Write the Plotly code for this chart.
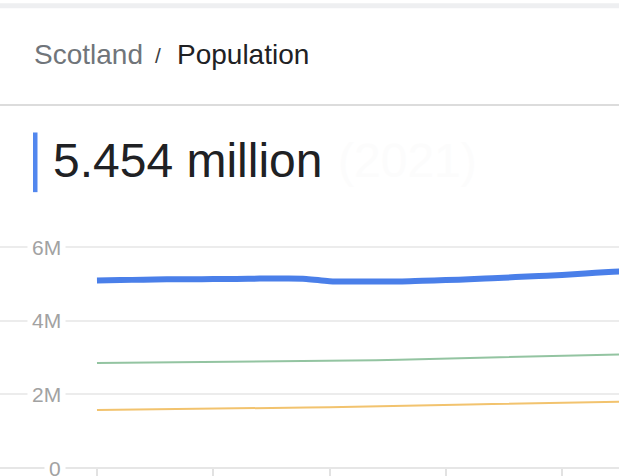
import plotly.graph_objects as go

# ---- data ----
years = list(range(1990, 2014))
scotland = [5.10, 5.11, 5.12, 5.13, 5.13, 5.14, 5.14, 5.15, 5.15, 5.14,
            5.08, 5.07, 5.07, 5.07, 5.09, 5.11, 5.13, 5.16, 5.19, 5.22,
            5.25, 5.29, 5.33, 5.36]
wales = [2.855, 2.860, 2.865, 2.870, 2.875, 2.880, 2.885, 2.890, 2.895, 2.900,
         2.905, 2.915, 2.930, 2.945, 2.960, 2.975, 2.995, 3.010, 3.025, 3.040,
         3.055, 3.070, 3.085, 3.095]
n_ireland = [1.575, 1.585, 1.595, 1.600, 1.605, 1.615, 1.625, 1.630, 1.635, 1.645,
             1.650, 1.660, 1.675, 1.685, 1.695, 1.710, 1.725, 1.740, 1.755, 1.765,
             1.780, 1.790, 1.800, 1.810]
y_tickvals = [0, 2e6, 4e6, 6e6]
y_ticktext = ["0", "2M", "4M", "6M"]
headline_place = "Scotland"
headline_metric = "Population"
headline_value = "5.454 million"
headline_year = "(2021)"

W, H = 619, 476
Y_MAX = 6.1e6
PX_PER_UNIT = 37.6 / 1e6          # pixels per person on the value axis
PLOT_BOTTOM = 473
PLOT_TOP = round(PLOT_BOTTOM - Y_MAX * PX_PER_UNIT)
Y_MAX = (PLOT_BOTTOM - PLOT_TOP) / PX_PER_UNIT


def py(p):
    """pixel row -> paper y"""
    return (PLOT_BOTTOM - p) / (PLOT_BOTTOM - PLOT_TOP)


def px(p):
    return p / W


FONT = "Liberation Sans, Arial, Helvetica, sans-serif"

fig = go.Figure()
fig.add_trace(go.Scatter(x=years, y=[v * 1e6 for v in n_ireland], mode="lines",
                         line=dict(color="#f2c36e", width=2), hoverinfo="skip"))
fig.add_trace(go.Scatter(x=years, y=[v * 1e6 for v in wales], mode="lines",
                         line=dict(color="#93c4a1", width=2), hoverinfo="skip"))
fig.add_trace(go.Scatter(x=years, y=[v * 1e6 for v in scotland], mode="lines",
                         line=dict(color="#4a7fe9", width=6, shape="spline"),
                         hoverinfo="skip"))

shapes = [
    # top grey band
    dict(type="rect", xref="paper", yref="paper", x0=0, x1=1, y0=py(-2), y1=py(3),
         fillcolor="#eeeff1", line=dict(width=0), layer="above"),
    # header divider
    dict(type="line", xref="paper", yref="paper", x0=0, x1=1, y0=py(102), y1=py(102),
         line=dict(color="#dcdcdc", width=2)),
    # blue accent bar
    dict(type="rect", xref="paper", yref="paper", x0=px(33), x1=px(37.5),
         y0=py(191), y1=py(130), fillcolor="#5287ee", line=dict(width=0)),
]

annotations = [
    dict(text=headline_place, x=px(32), y=py(50), xref="paper", yref="paper",
         xanchor="left", yanchor="middle", showarrow=False,
         font=dict(family=FONT, size=28, color="#70757a")),
    dict(text="/", x=px(153), y=py(51), xref="paper", yref="paper",
         xanchor="left", yanchor="middle", showarrow=False,
         font=dict(family=FONT, size=21, color="#3c4043")),
    dict(text=headline_metric, x=px(175), y=py(50), xref="paper", yref="paper",
         xanchor="left", yanchor="middle", showarrow=False,
         font=dict(family=FONT, size=28, color="#202124")),
    dict(text=headline_value, x=px(51), y=py(159), xref="paper", yref="paper",
         xanchor="left", yanchor="middle", showarrow=False,
         font=dict(family=FONT, size=48, color="#202124")),
    dict(text=headline_year, x=px(336), y=py(159), xref="paper", yref="paper",
         xanchor="left", yanchor="middle", showarrow=False,
         font=dict(family=FONT, size=48, color="#fcfcfc")),
]
for v, t in zip(y_tickvals, y_ticktext):
    annotations.append(dict(text=t, x=px(66), y=v, xref="paper", yref="y",
                            xanchor="right", yanchor="middle", showarrow=False,
                            bgcolor="white", borderpad=4,
                            font=dict(family=FONT, size=21, color="#a2a2a2")))

fig.update_layout(
    width=W, height=H,
    margin=dict(l=0, r=0, t=PLOT_TOP, b=H - PLOT_BOTTOM, pad=0),
    paper_bgcolor="white", plot_bgcolor="white",
    showlegend=False,
    shapes=shapes, annotations=annotations,
    xaxis=dict(range=[1985.83, 2012.45], showgrid=False, zeroline=False,
               showticklabels=False, ticks="outside", ticklen=8, tickwidth=1.5,
               tickcolor="#e2e2e2", tick0=1990, dtick=5, showline=False,
               fixedrange=True),
    yaxis=dict(range=[0, Y_MAX], tickvals=y_tickvals, showticklabels=False,
               showgrid=True, gridcolor="#ececec", gridwidth=2,
               zeroline=True, zerolinecolor="#e6e6e6", zerolinewidth=2,
               fixedrange=True),
)

fig.write_html("out.html", config={"displayModeBar": False},
               post_script="document.body.style.margin='0';")
